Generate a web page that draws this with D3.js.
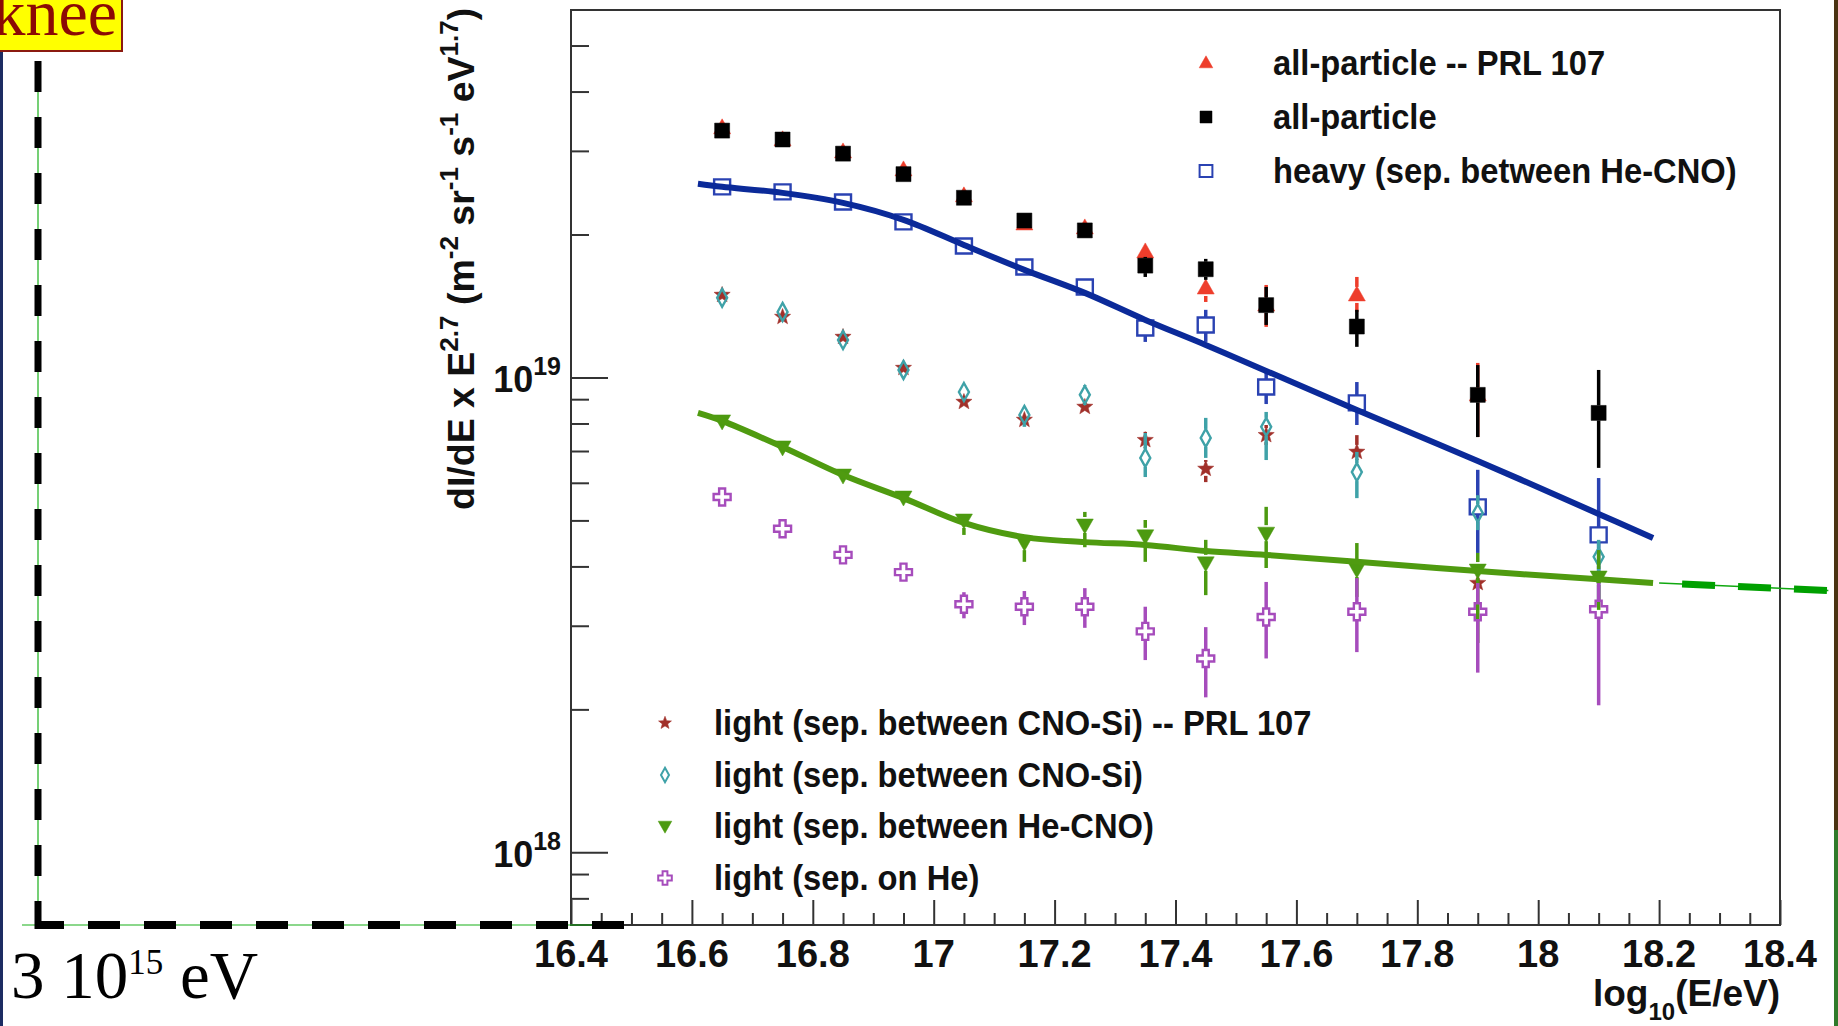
<!DOCTYPE html>
<html><head><meta charset="utf-8">
<script src="https://cdn.jsdelivr.net/npm/d3@7"></script>
<style>html,body{margin:0;padding:0;background:#fff;} svg{display:block;}</style>
</head><body>
<svg id="c" width="1838" height="1026"></svg>
<script>
// ---------------- data ----------------
const energies = [16.65,16.75,16.85,16.95,17.05,17.15,17.25,17.35,17.45,17.55,17.7,17.9,18.1];

const allPrl   = [3.355e19,3.165e19,2.985e19,2.736e19,2.412e19,2.105e19,2.065e19,1.838e19,1.543e19,1.421e19,1.492e19,9.19e18];
const allPrlLo = [null,null,null,null,null,null,null,1.751e19,1.442e19,1.278e19,1.374e19,7.49e18];
const allPrlHi = [null,null,null,null,null,null,null,1.911e19,1.581e19,1.566e19,1.628e19,1.073e19];

const allPart   = [3.31e19,3.17e19,2.96e19,2.68e19,2.39e19,2.14e19,2.04e19,1.72e19,1.69e19,1.42e19,1.28e19,9.19e18,8.42e18];
const allPartLo = [null,null,null,null,null,null,null,1.628e19,1.605e19,1.290e19,1.160e19,7.49e18,6.45e18];
const allPartHi = [null,null,null,null,null,null,null,1.794e19,1.777e19,1.551e19,1.388e19,1.062e19,1.037e19];

const heavy   = [2.520e19,2.459e19,2.342e19,2.126e19,1.892e19,1.709e19,1.551e19,1.271e19,1.290e19,9.55e18,8.84e18,5.34e18,4.66e18];
const heavyLo = [null,null,null,null,null,null,null,1.188e19,1.188e19,8.79e18,7.94e18,4.27e18,3.40e18];
const heavyHi = [null,null,null,null,null,null,null,1.335e19,1.388e19,1.042e19,9.78e18,6.39e18,6.14e18];

const lightPrl   = [1.492e19,1.341e19,1.217e19,1.047e19,8.88e18,8.14e18,8.67e18,7.38e18,6.42e18,7.56e18,6.97e18,3.69e18];
const lightPrlLo = [null,null,null,null,null,null,null,7.10e18,6.02e18,7.21e18,6.70e18,null];
const lightPrlHi = [null,null,null,null,null,null,null,7.68e18,6.70e18,7.94e18,7.56e18,null];

const lightCnoSi   = [1.471e19,1.374e19,1.199e19,1.037e19,9.32e18,8.34e18,9.19e18,6.77e18,7.46e18,7.87e18,6.32e18,5.18e18,4.19e18];
const lightCnoSiLo = [null,null,null,null,8.97e18,7.87e18,8.75e18,6.17e18,6.77e18,6.70e18,5.57e18,4.77e18,3.84e18];
const lightCnoSiHi = [null,null,null,null,9.69e18,8.67e18,9.64e18,7.64e18,8.22e18,8.46e18,6.97e18,5.65e18,4.55e18];

const lightHeCno   = [8.10e18,7.14e18,6.23e18,5.60e18,5.01e18,4.50e18,4.89e18,4.64e18,4.07e18,4.70e18,3.95e18,3.93e18,3.80e18];
const lightHeCnoLo = [null,null,null,null,4.66e18,4.09e18,4.39e18,4.09e18,3.48e18,3.97e18,3.45e18,2.76e18,3.24e18];
const lightHeCnoHi = [null,null,null,null,5.18e18,4.66e18,5.21e18,5.01e18,4.55e18,5.34e18,4.48e18,4.27e18,4.33e18];

const lightHe   = [5.60e18,4.80e18,4.23e18,3.89e18,3.33e18,3.29e18,3.29e18,2.92e18,2.56e18,3.13e18,3.21e18,3.21e18,3.25e18];
const lightHeLo = [null,null,null,null,3.11e18,3.01e18,2.97e18,2.54e18,2.12e18,2.56e18,2.64e18,2.39e18,2.04e18];
const lightHeHi = [null,null,null,null,3.53e18,3.55e18,3.60e18,3.29e18,2.98e18,3.71e18,3.78e18,3.69e18,3.69e18];

const heavyFitE = [16.61,16.65,16.75,16.85,16.95,17.05,17.15,17.25,17.35,17.45,17.55,17.7,17.9,18.1,18.19];
const heavyFitV = [2.557e19,2.520e19,2.447e19,2.331e19,2.147e19,1.901e19,1.685e19,1.507e19,1.322e19,1.171e19,1.032e19,8.54e18,6.67e18,5.16e18,4.59e18];

const lightFitE = [16.61,16.65,16.75,16.85,16.95,17.05,17.15,17.25,17.35,17.45,17.55,17.7,17.9,18.1,18.19];
const lightFitV = [8.42e18,8.10e18,7.14e18,6.23e18,5.57e18,4.94e18,4.61e18,4.50e18,4.44e18,4.31e18,4.23e18,4.09e18,3.91e18,3.76e18,3.69e18];

const extE = [18.2, 18.48];
const extV = [3.69e18, 3.56e18];

const xDomain = [16.4, 18.4];
const yDomain = [7.03e17, 5.94e19];
const xMajor = [16.4,16.6,16.8,17,17.2,17.4,17.6,17.8,18,18.2,18.4];
const xLabels = ["16.4","16.6","16.8","17","17.2","17.4","17.6","17.8","18","18.2","18.4"];
const yMajor = [1e18, 1e19];
const yExp = ["18","19"];
const yMinor = [8e17,9e17,2e18,3e18,4e18,5e18,6e18,7e18,8e18,9e18,2e19,3e19,4e19,5e19];

const legendTop = ["all-particle -- PRL 107","all-particle","heavy (sep. between He-CNO)"];
const legendBottom = ["light (sep. between CNO-Si) -- PRL 107","light (sep. between CNO-Si)","light (sep. between He-CNO)","light (sep. on He)"];

// ---------------- drawing ----------------
const svg = d3.select('#c');
const X0 = 571, X1 = 1780, Y0 = 10, Y1 = 925;
const x = d3.scaleLinear().domain(xDomain).range([X0, X1]);
const y = d3.scaleLog().domain(yDomain).range([Y1, Y0]);
const SANS = "'Liberation Sans', Arial, Helvetica, sans-serif";
const SERIF = "'Liberation Serif', 'Times New Roman', serif";

svg.append('rect').attr('width',1838).attr('height',1026).attr('fill','#fff');

// slide edges
svg.append('rect').attr('x',0).attr('y',0).attr('width',3).attr('height',1026).attr('fill','#1c2c62');
svg.append('rect').attr('x',1834).attr('y',0).attr('width',4).attr('height',830).attr('fill','#4a3312');
svg.append('rect').attr('x',1834).attr('y',830).attr('width',4).attr('height',196).attr('fill','#2f7a2a');

// knee box
svg.append('rect').attr('x',-6).attr('y',-6).attr('width',128).attr('height',57)
  .attr('fill','#ffff00').attr('stroke','#8b1a10').attr('stroke-width',2);
svg.append('text').attr('x',117).attr('y',35).attr('text-anchor','end')
  .attr('font-family',SERIF).attr('font-size',66).attr('fill','#8b0a05').text('knee');

// frame
svg.append('rect').attr('x',X0).attr('y',Y0).attr('width',X1-X0).attr('height',Y1-Y0)
  .attr('fill','none').attr('stroke','#333').attr('stroke-width',2);

// axes ticks
function styleAxis(g){ g.select('.domain').remove(); g.selectAll('line').attr('stroke','#333').attr('stroke-width',2); g.selectAll('text').remove(); }
const xMinorVals = d3.range(0, 41).map(i => +(16.4 + i*0.05).toFixed(2)).filter(v => !xMajor.some(m => Math.abs(m-v)<1e-6));
svg.append('g').attr('transform',`translate(0,${Y1})`).call(d3.axisBottom(x).tickValues(xMajor).tickSize(-25)).call(styleAxis);
svg.append('g').attr('transform',`translate(0,${Y1})`).call(d3.axisBottom(x).tickValues(xMinorVals).tickSize(-12)).call(styleAxis);
svg.append('g').attr('transform',`translate(${X0},0)`).call(d3.axisLeft(y).tickValues(yMajor).tickSize(-37)).call(styleAxis);
svg.append('g').attr('transform',`translate(${X0},0)`).call(d3.axisLeft(y).tickValues(yMinor).tickSize(-18)).call(styleAxis);

// x tick labels
svg.append('g').selectAll('text').data(xMajor).join('text')
  .attr('x', d => x(d)).attr('y', 967).attr('text-anchor','middle')
  .attr('font-family',SANS).attr('font-weight','bold').attr('font-size',38).attr('fill','#111')
  .text((d,i) => xLabels[i]);

// y tick labels
yMajor.forEach((v,i) => {
  const t = svg.append('text').attr('x',561).attr('y',y(v)+15).attr('text-anchor','end')
    .attr('font-family',SANS).attr('font-weight','bold').attr('fill','#111');
  t.append('tspan').attr('font-size',36).text('10');
  t.append('tspan').attr('font-size',25).attr('dy',-17).text(yExp[i]);
});

// y title
(function(){
  const t = svg.append('text').attr('transform','translate(474,510) rotate(-90)')
    .attr('font-family',SANS).attr('font-weight','bold').attr('font-size',37.5).attr('fill','#111');
  const parts = [["dI/dE x E",0],["2.7",1],[" (m",0],["-2",1],[" sr",0],["-1",1],[" s",0],["-1",1],[" eV",0],["1.7",1],[")",0]];
  let up = false;
  parts.forEach(([s,sup]) => {
    const ts = t.append('tspan').text(s);
    if (sup) { ts.attr('font-size',26).attr('dy',-16); up = true; }
    else if (up) { ts.attr('dy',16); up = false; }
  });
})();

// x title
(function(){
  const t = svg.append('text').attr('x',1780).attr('y',1006).attr('text-anchor','end')
    .attr('font-family',SANS).attr('font-weight','bold').attr('font-size',37).attr('fill','#111');
  t.append('tspan').text('log');
  t.append('tspan').attr('font-size',24).attr('dy',14).text('10');
  t.append('tspan').attr('dy',-14).text('(E/eV)');
})();

// black dashed "knee" lines with thin green guide
svg.append('line').attr('x1',38).attr('y1',61).attr('x2',38).attr('y2',Y1).attr('stroke','#19b019').attr('stroke-width',1.2);
svg.append('line').attr('x1',22).attr('y1',Y1).attr('x2',593).attr('y2',Y1).attr('stroke','#19b019').attr('stroke-width',1.2);
svg.append('line').attr('x1',38).attr('y1',61).attr('x2',38).attr('y2',Y1+4).attr('stroke','#000').attr('stroke-width',7).attr('stroke-dasharray','31,25');
svg.append('line').attr('x1',35).attr('y1',Y1).attr('x2',625).attr('y2',Y1).attr('stroke','#000').attr('stroke-width',8).attr('stroke-dasharray','32,24').attr('stroke-dashoffset',3);

// "3 10^15 eV"
(function(){
  const t = svg.append('text').attr('x',11).attr('y',998)
    .attr('font-family',SERIF).attr('font-size',67).attr('fill','#000');
  t.append('tspan').text('3 10');
  t.append('tspan').attr('font-size',35).attr('dy',-24).text('15');
  t.append('tspan').attr('dy',24).text(' eV');
})();

// marker shapes
function starPath(R, r){
  let p = '';
  for (let i=0;i<10;i++){
    const a = -Math.PI/2 + i*Math.PI/5;
    const rr = i%2===0 ? R : r;
    p += (i===0?'M':'L') + (rr*Math.cos(a)).toFixed(2) + ',' + (rr*Math.sin(a)).toFixed(2);
  }
  return p + 'Z';
}
function crossPath(b, a){
  const pts = [[-a,-b],[a,-b],[a,-a],[b,-a],[b,a],[a,a],[a,b],[-a,b],[-a,a],[-b,a],[-b,-a],[-a,-a]];
  return 'M' + pts.map(p=>p.join(',')).join('L') + 'Z';
}
const shapes = {
  triUp:   {d: s => `M0,${-9*s}L${8.5*s},${6*s}L${-8.5*s},${6*s}Z`, half: 8, fill: true},
  square:  {d: s => `M${-7.5*s},${-7.5*s}h${15*s}v${15*s}h${-15*s}Z`, half: 7.5, fill: true},
  oSquare: {d: s => `M${-8*s},${-7.5*s}h${16*s}v${15*s}h${-16*s}Z`, half: 7.5, fill: false},
  star:    {d: s => starPath(8.5*s, 3.6*s), half: 7, fill: true},
  diamond: {d: s => `M0,${-9*s}L${5*s},0L0,${9*s}L${-5*s},0Z`, half: 9, fill: false},
  triDown: {d: s => `M0,${9*s}L${8.5*s},${-6*s}L${-8.5*s},${-6*s}Z`, half: 8, fill: true},
  cross:   {d: s => crossPath(8.5*s, 3*s), half: 8.5, fill: false}
};

const series = [
  {v: allPrl,     lo: allPrlLo,     hi: allPrlHi,     color:'#ee3d2b', shape:'triUp'},
  {v: allPart,    lo: allPartLo,    hi: allPartHi,    color:'#000000', shape:'square'},
  {v: heavy,      lo: heavyLo,      hi: heavyHi,      color:'#2a42b2', shape:'oSquare'},
  {v: lightPrl,   lo: lightPrlLo,   hi: lightPrlHi,   color:'#a1302a', shape:'star'},
  {v: lightCnoSi, lo: lightCnoSiLo, hi: lightCnoSiHi, color:'#3fa2a8', shape:'diamond'},
  {v: lightHeCno, lo: lightHeCnoLo, hi: lightHeCnoHi, color:'#4c9a10', shape:'triDown'},
  {v: lightHe,    lo: lightHeLo,    hi: lightHeHi,    color:'#a64cbc', shape:'cross'}
];

const dataG = svg.append('g');
series.forEach(s => {
  const sh = shapes[s.shape];
  const g = dataG.append('g');
  const pts = s.v.map((v,i) => ({e: energies[i], v, lo: s.lo[i], hi: s.hi[i]}));
  pts.forEach(p => {
    const cx = x(p.e), cy = y(p.v);
    if (p.hi != null && y(p.hi) < cy - sh.half)
      g.append('line').attr('x1',cx).attr('x2',cx).attr('y1',y(p.hi)).attr('y2',cy - sh.half)
        .attr('stroke',s.color).attr('stroke-width',3.5);
    if (p.lo != null && y(p.lo) > cy + sh.half)
      g.append('line').attr('x1',cx).attr('x2',cx).attr('y1',cy + sh.half).attr('y2',y(p.lo))
        .attr('stroke',s.color).attr('stroke-width',3.5);
  });
  g.selectAll('path.m').data(pts).join('path').attr('class','m')
    .attr('transform', p => `translate(${x(p.e)},${y(p.v)})`)
    .attr('d', sh.d(1))
    .attr('fill', sh.fill ? s.color : 'none')
    .attr('stroke', s.color).attr('stroke-width', sh.fill ? 0.5 : 2.4);
});

// fit curves
const lineGen = d3.line().x(d => x(d[0])).y(d => y(d[1])).curve(d3.curveCatmullRom.alpha(0.5));
svg.append('path').attr('d', lineGen(heavyFitE.map((e,i)=>[e, heavyFitV[i]])))
  .attr('fill','none').attr('stroke','#0b2a99').attr('stroke-width',6);
svg.append('path').attr('d', lineGen(lightFitE.map((e,i)=>[e, lightFitV[i]])))
  .attr('fill','none').attr('stroke','#4f9b10').attr('stroke-width',6);
const extPts = extE.map((e,i)=>[e, extV[i]]);
const lin = d3.line().x(d => x(d[0])).y(d => y(d[1]));
svg.append('path').attr('d', lin(extPts)).attr('fill','none').attr('stroke','#10a810').attr('stroke-width',1.5);
svg.append('path').attr('d', lin(extPts)).attr('fill','none').attr('stroke','#00a000').attr('stroke-width',7)
  .attr('stroke-dasharray','33,23').attr('stroke-dashoffset',33);

// legends
function legendItem(mx, my, tx, shapeKey, color, label){
  const sh = shapes[shapeKey];
  svg.append('path').attr('transform',`translate(${mx},${my})`).attr('d', sh.d(0.8))
    .attr('fill', sh.fill ? color : 'none').attr('stroke', color).attr('stroke-width', sh.fill ? 0.5 : 2);
  svg.append('text').attr('transform',`translate(${tx},${my+12}) scale(0.935,1)`)
    .attr('font-family',SANS).attr('font-weight','bold').attr('font-size',35).attr('fill','#111')
    .text(label);
}
const topRows = [63, 117, 171];
legendTop.forEach((lab,i) => legendItem(1206, topRows[i], 1273, series[i].shape, series[i].color, lab));
const botRows = [723, 775, 826, 878];
legendBottom.forEach((lab,i) => legendItem(665, botRows[i], 714, series[i+3].shape, series[i+3].color, lab));
</script>
</body></html>
